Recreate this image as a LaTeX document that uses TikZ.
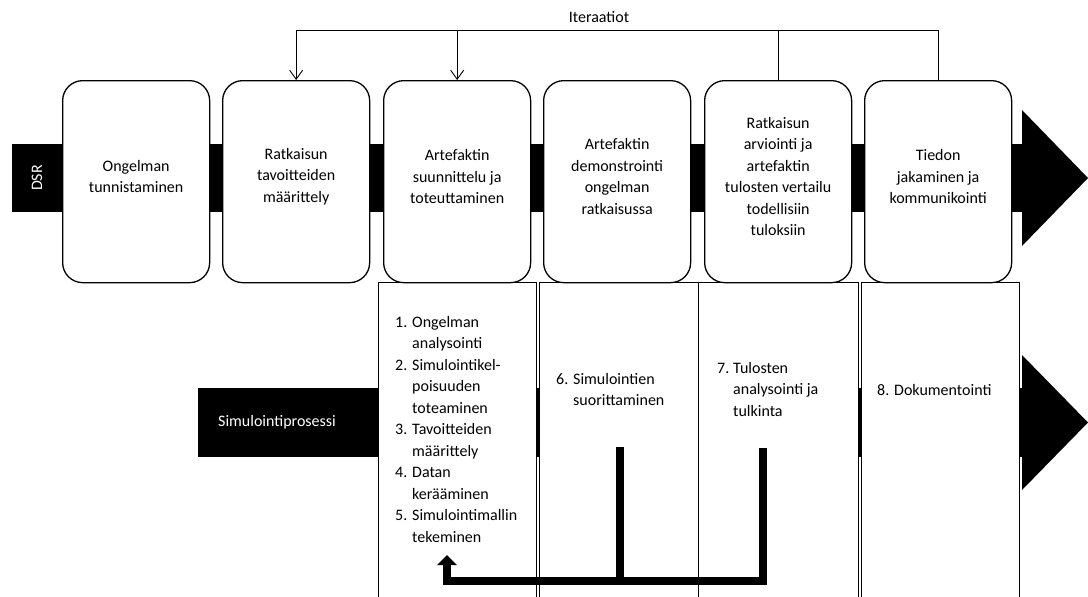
\documentclass[tikz,border=0pt]{standalone}
\usepackage{fontspec}
\setmainfont{Carlito}
\usetikzlibrary{arrows.meta}
\begin{document}
\begin{tikzpicture}[x=1pt,y=-1pt,
  txt/.style={font=\fontsize{16}{21.5}\selectfont,inner sep=0pt},
  stage/.style={draw,line width=1.3pt,fill=white,rounded corners=20pt,minimum width=147pt,minimum height=202pt,inner sep=0pt,anchor=north west},
  stagetext/.style={txt,align=center},
  col/.style={draw,line width=1pt,fill=white,minimum height=330pt,inner sep=0pt,anchor=north west},
  steps/.style={txt,anchor=north west},
  thinline/.style={line width=0.9pt},
  iter/.style={thinline,-{Straight Barb[length=9pt,width=13pt]}},
  feedback/.style={line width=8.7pt,-{Triangle[length=10pt,width=19pt]}},
  bartext/.style={txt,text=white}
]
\useasboundingbox (0,0) rectangle (1088,597);
\clip (0,0) rectangle (1088,597);
% bars and big arrow heads
\fill[black] (12,144) rectangle (1023,212);
\fill[black] (1022,110) -- (1088,178) -- (1022,246) -- cycle;
\fill[black] (198,388) rectangle (1023,457);
\fill[black] (1022,355) -- (1088,422.5) -- (1022,490) -- cycle;
\node[bartext,rotate=90] (dsr) at (37,178) {DSR};
% lower columns
\node[col,minimum width=158pt] (cA) at (377.5,282) {};
\node[col,minimum width=159.5pt] (cB) at (538.5,282) {};
\node[col,minimum width=159.5pt] (cC) at (698,282) {};
\node[col,minimum width=158pt] (cD) at (860.5,282) {};
\node[bartext,anchor=west] (sim) at (218,422) {Simulointiprosessi};
% stages
\node[stage] (b1) at (62,80) {};
\node[stage] (b2) at (222,80) {};
\node[stage] (b3) at (383,80) {};
\node[stage] (b4) at (543,80) {};
\node[stage] (b5) at (704,80) {};
\node[stage] (b6) at (864,80) {};
\node[stagetext,yshift=5pt] (t1) at (b1.center) {Ongelman\\tunnistaminen};
\node[stagetext,yshift=5pt] (t2) at (b2.center) {Ratkaisun\\tavoitteiden\\määrittely};
\node[stagetext,yshift=5pt] (t3) at (b3.center) {Artefaktin\\suunnittelu ja\\toteuttaminen};
\node[stagetext,yshift=5pt] (t4) at (b4.center) {Artefaktin\\demonstrointi\\ongelman\\ratkaisussa};
\node[stagetext,yshift=5pt] (t5) at (b5.center) {Ratkaisun\\arviointi ja\\artefaktin\\tulosten vertailu\\todellisiin\\tuloksiin};
\node[stagetext,yshift=5pt] (t6) at (b6.center) {Tiedon\\jakaminen ja\\kommunikointi};
% iterations
\coordinate (itop) at (0,30);
\node[txt] (itlabel) at (599,17) {Iteraatiot};
\draw[iter] (b6.north) -- (b6.north |- itop) -| (b2.north);
\draw[iter] (b3.north |- itop) -- (b3.north);
\draw[thinline] (b5.north) -- (b5.north |- itop);
% step lists
\node[steps] (lA) at (395,312) {\begin{tabular}{@{}p{17pt}@{}l@{}}
1. & Ongelman\\ & analysointi\\
2. & Simulointikel-\\ & poisuuden\\ & toteaminen\\
3. & Tavoitteiden\\ & määrittely\\
4. & Datan\\ & kerääminen\\
5. & Simulointimallin\\ & tekeminen\end{tabular}};
\node[steps] (lB) at (556,369) {\begin{tabular}{@{}p{17pt}@{}l@{}}
6. & Simulointien\\ & suorittaminen\end{tabular}};
\node[steps] (lC) at (717,358) {\begin{tabular}{@{}p{16pt}@{}l@{}}
7. & Tulosten\\ & analysointi ja\\ & tulkinta\end{tabular}};
\node[steps] (lD) at (877,380) {\begin{tabular}{@{}p{17pt}@{}l@{}}
8. & Dokumentointi\end{tabular}};
% feedback arrow
\coordinate (fbB) at (620,447);
\coordinate (fbC) at (763,448);
\coordinate (fbY) at (0,581);
\coordinate (fbEnd) at (447,555);
\draw[line width=8.7pt] (fbB) -- (fbB |- fbY);
\draw[feedback] (fbC) -- (fbC |- fbY) -- (fbEnd |- fbY) -- (fbEnd);
\end{tikzpicture}
\end{document}
